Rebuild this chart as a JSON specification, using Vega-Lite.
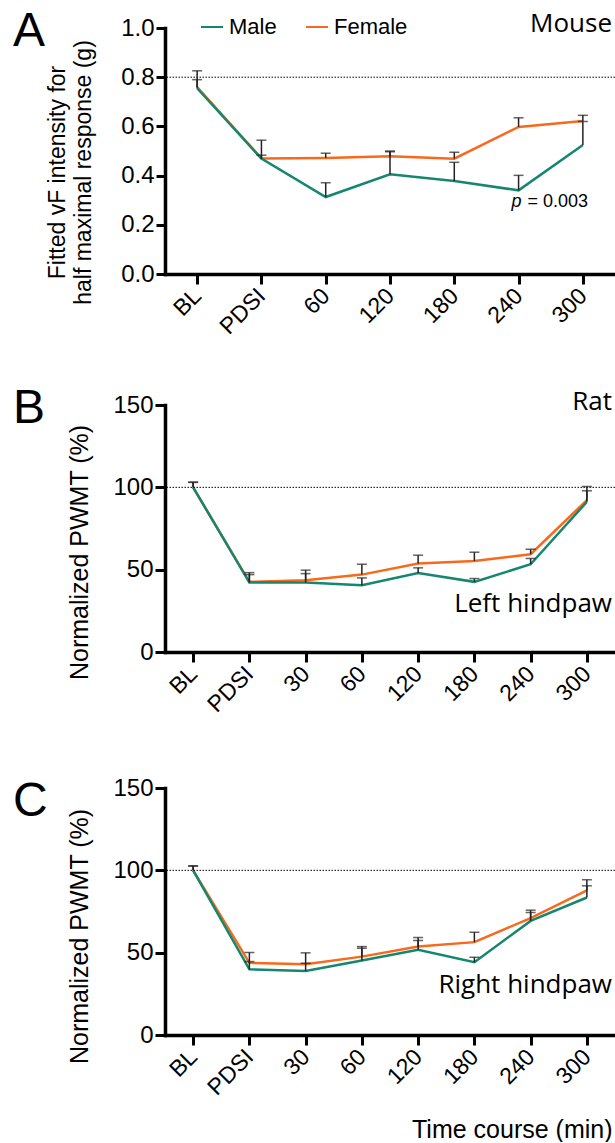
{
  "$schema": "https://vega.github.io/schema/vega-lite/v6.json",
  "background": "white",
  "padding": {"left": 13, "top": 7, "right": 0, "bottom": 0},
  "config": {
    "view": {"stroke": null},
    "font": "Liberation Sans",
    "axis": {"domainColor": "black", "domainWidth": 3.5, "domainCap": "square", "tickColor": "black", "tickWidth": 3, "tickSize": 10, "labelFont": "Liberation Sans", "labelFontSize": 24, "labelColor": "black", "titleFont": "Liberation Sans", "titleFontWeight": "normal", "titleColor": "black", "grid": false},
    "title": {"font": "Liberation Sans", "fontSize": 48, "fontWeight": "normal", "color": "black", "anchor": "start", "frame": "group", "baseline": "alphabetic", "dx": -152}
  },
  "datasets": {
    "d": [
      {"panel": "A", "time": "BL", "sex": "Female", "mean": 0.76, "top": 0.79},
      {"panel": "A", "time": "PDSI", "sex": "Female", "mean": 0.47, "top": 0.483},
      {"panel": "A", "time": "60", "sex": "Female", "mean": 0.472, "top": 0.491},
      {"panel": "A", "time": "120", "sex": "Female", "mean": 0.479, "top": 0.497},
      {"panel": "A", "time": "180", "sex": "Female", "mean": 0.469, "top": 0.495},
      {"panel": "A", "time": "240", "sex": "Female", "mean": 0.598, "top": 0.635},
      {"panel": "A", "time": "300", "sex": "Female", "mean": 0.622, "top": 0.645},
      {"panel": "A", "time": "BL", "sex": "Male", "mean": 0.755, "top": 0.826},
      {"panel": "A", "time": "PDSI", "sex": "Male", "mean": 0.469, "top": 0.544},
      {"panel": "A", "time": "60", "sex": "Male", "mean": 0.313, "top": 0.371},
      {"panel": "A", "time": "120", "sex": "Male", "mean": 0.405, "top": 0.5},
      {"panel": "A", "time": "180", "sex": "Male", "mean": 0.378, "top": 0.454},
      {"panel": "A", "time": "240", "sex": "Male", "mean": 0.34, "top": 0.401},
      {"panel": "A", "time": "300", "sex": "Male", "mean": 0.524, "top": 0.62},
      {"panel": "B", "time": "BL", "sex": "Female", "mean": 100, "top": 103.2},
      {"panel": "B", "time": "PDSI", "sex": "Female", "mean": 42.6, "top": 47},
      {"panel": "B", "time": "30", "sex": "Female", "mean": 43.6, "top": 49.7},
      {"panel": "B", "time": "60", "sex": "Female", "mean": 47, "top": 53.3},
      {"panel": "B", "time": "120", "sex": "Female", "mean": 53.7, "top": 58.8},
      {"panel": "B", "time": "180", "sex": "Female", "mean": 55.3, "top": 60.6},
      {"panel": "B", "time": "240", "sex": "Female", "mean": 59.4, "top": 62.4},
      {"panel": "B", "time": "300", "sex": "Female", "mean": 92.2, "top": 100.5},
      {"panel": "B", "time": "BL", "sex": "Male", "mean": 100, "top": 103},
      {"panel": "B", "time": "PDSI", "sex": "Male", "mean": 42.2, "top": 48.2},
      {"panel": "B", "time": "30", "sex": "Male", "mean": 42.2, "top": 47.6},
      {"panel": "B", "time": "60", "sex": "Male", "mean": 40.5, "top": 45},
      {"panel": "B", "time": "120", "sex": "Male", "mean": 48, "top": 51.1},
      {"panel": "B", "time": "180", "sex": "Male", "mean": 42.6, "top": 44.6},
      {"panel": "B", "time": "240", "sex": "Male", "mean": 53.3, "top": 56.8},
      {"panel": "B", "time": "300", "sex": "Male", "mean": 91.2, "top": 97.9},
      {"panel": "C", "time": "BL", "sex": "Female", "mean": 100, "top": 102.8},
      {"panel": "C", "time": "PDSI", "sex": "Female", "mean": 43.8, "top": 50.1},
      {"panel": "C", "time": "30", "sex": "Female", "mean": 43, "top": 49.9},
      {"panel": "C", "time": "60", "sex": "Female", "mean": 47.6, "top": 53.7},
      {"panel": "C", "time": "120", "sex": "Female", "mean": 53.7, "top": 59.2},
      {"panel": "C", "time": "180", "sex": "Female", "mean": 56.4, "top": 62.4},
      {"panel": "C", "time": "240", "sex": "Female", "mean": 71, "top": 75.8},
      {"panel": "C", "time": "300", "sex": "Female", "mean": 87.8, "top": 94.3},
      {"panel": "C", "time": "BL", "sex": "Male", "mean": 100, "top": 102.5},
      {"panel": "C", "time": "PDSI", "sex": "Male", "mean": 39.9, "top": 44.6},
      {"panel": "C", "time": "30", "sex": "Male", "mean": 38.9, "top": 43.6},
      {"panel": "C", "time": "60", "sex": "Male", "mean": 45.2, "top": 52.7},
      {"panel": "C", "time": "120", "sex": "Male", "mean": 51.7, "top": 57.4},
      {"panel": "C", "time": "180", "sex": "Male", "mean": 44.2, "top": 47.2},
      {"panel": "C", "time": "240", "sex": "Male", "mean": 69.3, "top": 74.4},
      {"panel": "C", "time": "300", "sex": "Male", "mean": 83.5, "top": 90.6}
    ]
  },
  "bounds": "flush",
  "spacing": 131,
  "resolve": {"scale": {"color": "independent"}, "legend": {"color": "independent"}},
  "vconcat": [
    {
      "width": 450, "height": 246,
      "title": {"text": "A", "offset": -45},
      "layer": [
        {"data": {"name": "d"}, "transform": [{"filter": "datum.panel === 'A'"}], "mark": {"type": "line", "strokeWidth": 2.5},
         "encoding": {
           "x": {"field": "time", "type": "nominal", "sort": ["BL", "PDSI", "60", "120", "180", "240", "300"], "scale": {"type": "point", "padding": 0.5}, "title": null, "axis": {"labelAngle": -45, "labelAlign": "right", "labelBaseline": "middle", "labelPadding": 8, "labelFontSize": 23}},
           "y": {"field": "mean", "type": "quantitative", "scale": {"domain": [0, 1], "nice": false}, "title": ["Fitted vF intensity for", "half maximal response (g)"], "axis": {"values": [0, 0.2, 0.4, 0.6, 0.8, 1], "format": ".1f", "tickSize": 9, "labelPadding": 2, "titleFontSize": 23, "titleLineHeight": 26, "titlePadding": 25, "titleY": 144}},
           "color": {"field": "sex", "type": "nominal", "scale": {"domain": ["Male", "Female"], "range": ["#15876e", "#f8691c"]}, "legend": {"orient": "none", "legendX": 35, "legendY": -13, "direction": "horizontal", "title": null, "symbolType": "stroke", "symbolStrokeWidth": 2, "symbolSize": 484, "labelFontSize": 22, "labelFont": "Liberation Sans", "labelColor": "black", "columnPadding": 25, "labelOffset": 5, "padding": 0}}
         }},
        {"data": {"values": [{"ref": 0.8}]}, "mark": {"type": "rule", "strokeDash": [1.5, 1.5], "strokeWidth": 1, "color": "black"}, "encoding": {"y": {"field": "ref", "type": "quantitative", "title": ["Fitted vF intensity for", "half maximal response (g)"]}}},
        {"data": {"name": "d"}, "transform": [{"filter": "datum.panel === 'A'"}], "mark": {"type": "rule", "strokeWidth": 1.5, "color": "#222"},
         "encoding": {"x": {"field": "time", "type": "nominal", "sort": ["BL", "PDSI", "60", "120", "180", "240", "300"], "title": null}, "y": {"field": "mean", "type": "quantitative", "title": ["Fitted vF intensity for", "half maximal response (g)"]}, "y2": {"field": "top"}}},
        {"data": {"name": "d"}, "transform": [{"filter": "datum.panel === 'A'"}], "mark": {"type": "tick", "thickness": 1.5, "size": 10, "color": "#222"},
         "encoding": {"x": {"field": "time", "type": "nominal", "sort": ["BL", "PDSI", "60", "120", "180", "240", "300"], "title": null}, "y": {"field": "top", "type": "quantitative", "title": ["Fitted vF intensity for", "half maximal response (g)"]}}},
        {"data": {"values": [{"label": "Mouse"}]}, "mark": {"type": "text", "align": "right", "baseline": "alphabetic", "font": "Open Sans", "fontSize": 26, "dx": -3, "color": "black"},
         "encoding": {"x": {"value": "width"}, "y": {"datum": 0.985, "type": "quantitative", "title": ["Fitted vF intensity for", "half maximal response (g)"]}, "text": {"field": "label"}}},
        {"data": {"values": [{"label": "p", "time": "240"}]}, "mark": {"type": "text", "align": "right", "baseline": "alphabetic", "font": "Liberation Sans", "fontSize": 18, "fontStyle": "italic", "dx": 3, "color": "black"},
         "encoding": {"x": {"field": "time", "type": "nominal", "sort": ["BL", "PDSI", "60", "120", "180", "240", "300"], "title": null}, "y": {"datum": 0.271, "type": "quantitative", "title": ["Fitted vF intensity for", "half maximal response (g)"]}, "text": {"field": "label"}}},
        {"data": {"values": [{"label": "= 0.003", "time": "240"}]}, "mark": {"type": "text", "align": "left", "baseline": "alphabetic", "font": "Liberation Sans", "fontSize": 18, "dx": 9, "color": "black"},
         "encoding": {"x": {"field": "time", "type": "nominal", "sort": ["BL", "PDSI", "60", "120", "180", "240", "300"], "title": null}, "y": {"datum": 0.271, "type": "quantitative", "title": ["Fitted vF intensity for", "half maximal response (g)"]}, "text": {"field": "label"}}}
      ]
    },
    {
      "bounds": "flush",
      "spacing": 136,
      "resolve": {"scale": {"color": "independent"}, "legend": {"color": "independent"}},
      "vconcat": [
        {
          "width": 450, "height": 247,
          "title": {"text": "B", "offset": -44},
          "layer": [
            {"data": {"name": "d"}, "transform": [{"filter": "datum.panel === 'B'"}], "mark": {"type": "line", "strokeWidth": 2.5},
             "encoding": {
               "x": {"field": "time", "type": "nominal", "sort": ["BL", "PDSI", "30", "60", "120", "180", "240", "300"], "scale": {"type": "point", "padding": 0.5}, "title": null, "axis": {"labelAngle": -45, "labelAlign": "right", "labelBaseline": "middle", "labelPadding": 8, "labelFontSize": 23}},
               "y": {"field": "mean", "type": "quantitative", "scale": {"domain": [0, 150], "nice": false}, "title": "Normalized PWMT (%)", "axis": {"values": [0, 50, 100, 150], "labelPadding": 2, "titleFontSize": 25, "titlePadding": 20, "titleY": 147}},
               "color": {"field": "sex", "type": "nominal", "scale": {"domain": ["Male", "Female"], "range": ["#15876e", "#f8691c"]}, "legend": null}
             }},
            {"data": {"values": [{"ref": 100}]}, "mark": {"type": "rule", "strokeDash": [1.5, 1.5], "strokeWidth": 1, "color": "black"}, "encoding": {"y": {"field": "ref", "type": "quantitative", "title": "Normalized PWMT (%)"}}},
            {"data": {"name": "d"}, "transform": [{"filter": "datum.panel === 'B'"}], "mark": {"type": "rule", "strokeWidth": 1.5, "color": "#222"},
             "encoding": {"x": {"field": "time", "type": "nominal", "sort": ["BL", "PDSI", "30", "60", "120", "180", "240", "300"], "title": null}, "y": {"field": "mean", "type": "quantitative", "title": "Normalized PWMT (%)"}, "y2": {"field": "top"}}},
            {"data": {"name": "d"}, "transform": [{"filter": "datum.panel === 'B'"}], "mark": {"type": "tick", "thickness": 1.5, "size": 10, "color": "#222"},
             "encoding": {"x": {"field": "time", "type": "nominal", "sort": ["BL", "PDSI", "30", "60", "120", "180", "240", "300"], "title": null}, "y": {"field": "top", "type": "quantitative", "title": "Normalized PWMT (%)"}}},
            {"data": {"values": [{"label": "Rat"}]}, "mark": {"type": "text", "align": "right", "baseline": "alphabetic", "font": "Open Sans", "fontSize": 26, "dx": -3, "color": "black"},
             "encoding": {"x": {"value": "width"}, "y": {"datum": 147, "type": "quantitative", "title": "Normalized PWMT (%)"}, "text": {"field": "label"}}},
            {"data": {"values": [{"label": "Left hindpaw"}]}, "mark": {"type": "text", "align": "right", "baseline": "alphabetic", "font": "Open Sans", "fontSize": 26, "dx": -3, "color": "black"},
             "encoding": {"x": {"value": "width"}, "y": {"datum": 24.3, "type": "quantitative", "title": "Normalized PWMT (%)"}, "text": {"field": "label"}}}
          ]
        },
        {
          "width": 450, "height": 247,
          "title": {"text": "C", "offset": -50},
          "layer": [
            {"data": {"name": "d"}, "transform": [{"filter": "datum.panel === 'C'"}], "mark": {"type": "line", "strokeWidth": 2.5},
             "encoding": {
               "x": {"field": "time", "type": "nominal", "sort": ["BL", "PDSI", "30", "60", "120", "180", "240", "300"], "scale": {"type": "point", "padding": 0.5}, "title": "Time course (min)", "axis": {"titleFontSize": 25, "titleX": 447, "titleY": 102, "titleAlign": "right", "titleAnchor": "end", "titleBaseline": "alphabetic", "labelAngle": -45, "labelAlign": "right", "labelBaseline": "middle", "labelPadding": 8, "labelFontSize": 23}},
               "y": {"field": "mean", "type": "quantitative", "scale": {"domain": [0, 150], "nice": false}, "title": "Normalized PWMT (%)", "axis": {"values": [0, 50, 100, 150], "labelPadding": 2, "titleFontSize": 25, "titlePadding": 20, "titleY": 148}},
               "color": {"field": "sex", "type": "nominal", "scale": {"domain": ["Male", "Female"], "range": ["#15876e", "#f8691c"]}, "legend": null}
             }},
            {"data": {"values": [{"ref": 100}]}, "mark": {"type": "rule", "strokeDash": [1.5, 1.5], "strokeWidth": 1, "color": "black"}, "encoding": {"y": {"field": "ref", "type": "quantitative", "title": "Normalized PWMT (%)"}}},
            {"data": {"name": "d"}, "transform": [{"filter": "datum.panel === 'C'"}], "mark": {"type": "rule", "strokeWidth": 1.5, "color": "#222"},
             "encoding": {"x": {"field": "time", "type": "nominal", "sort": ["BL", "PDSI", "30", "60", "120", "180", "240", "300"], "title": "Time course (min)"}, "y": {"field": "mean", "type": "quantitative", "title": "Normalized PWMT (%)"}, "y2": {"field": "top"}}},
            {"data": {"name": "d"}, "transform": [{"filter": "datum.panel === 'C'"}], "mark": {"type": "tick", "thickness": 1.5, "size": 10, "color": "#222"},
             "encoding": {"x": {"field": "time", "type": "nominal", "sort": ["BL", "PDSI", "30", "60", "120", "180", "240", "300"], "title": "Time course (min)"}, "y": {"field": "top", "type": "quantitative", "title": "Normalized PWMT (%)"}}},
            {"data": {"values": [{"label": "Right hindpaw"}]}, "mark": {"type": "text", "align": "right", "baseline": "alphabetic", "font": "Open Sans", "fontSize": 26, "dx": -3, "color": "black"},
             "encoding": {"x": {"value": "width"}, "y": {"datum": 25.7, "type": "quantitative", "title": "Normalized PWMT (%)"}, "text": {"field": "label"}}}
          ]
        }
      ]
    }
  ]
}
